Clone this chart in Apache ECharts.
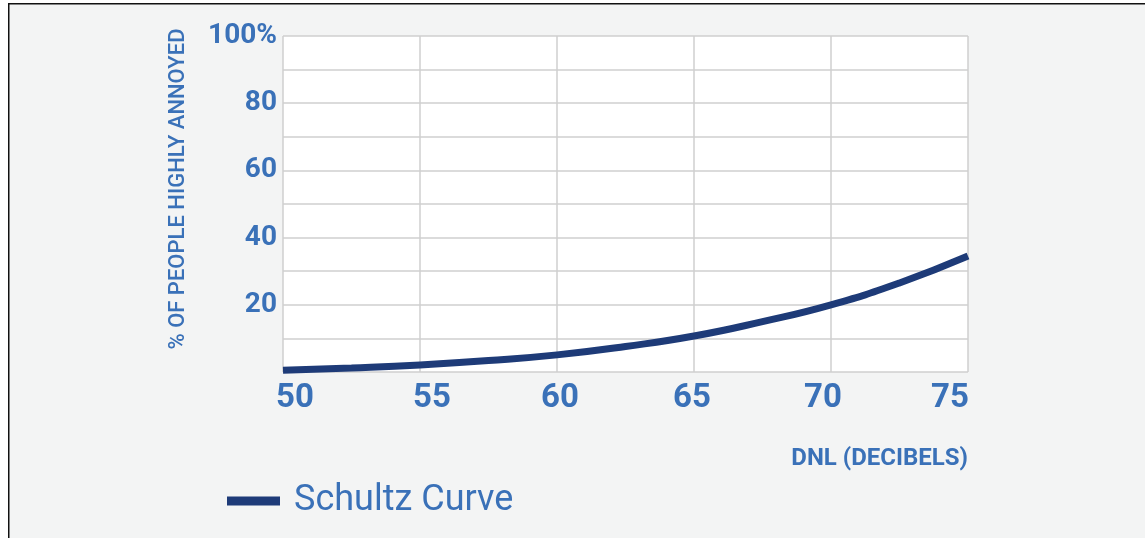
<!DOCTYPE html>
<html>
<head>
<meta charset="utf-8">
<script src="https://cdn.jsdelivr.net/npm/echarts@6/dist/echarts.min.js"></script>
<style>
html,body{margin:0;padding:0;background:#fff;}
#c{width:1145px;height:538px;}
</style>
</head>
<body>
<div id="c"></div>
<script>
// Data
const dnl = [50, 52.5, 55, 57.5, 60, 62.5, 65, 67.5, 70, 72.5, 75];
const pctAnnoyed = [0.5, 1.2, 2.1, 3.4, 5.1, 7.6, 10.7, 15.0, 20.0, 26.5, 34.5];
const xTicks = [50, 55, 60, 65, 70, 75];
const yTickLabels = {20: '20', 40: '40', 60: '60', 80: '80', 100: '100%'};
const seriesName = 'Schultz Curve';
const xTitle = 'DNL (DECIBELS)';
const yTitle = '% OF PEOPLE HIGHLY ANNOYED';

const BLUE = '#3a71b8';
const NAVY = '#1e3b78';
const FONT = 'Roboto, "Liberation Sans", sans-serif';

// horizontal shift (px) of each x tick label, to follow the reference placement
const xLabelShift = {50: 12, 55: 12, 60: 3, 65: -2, 70: -8, 75: -18};

const xRich = {};
const xBase = {color: BLUE, fontSize: 33, fontWeight: 'bold', fontFamily: FONT};
xTicks.forEach(function (v) {
  const s = xLabelShift[v] || 0;
  xRich['t' + v] = Object.assign({}, xBase, {
    padding: s >= 0 ? [0, 0, 0, 2 * s] : [0, -2 * s, 0, 0]
  });
});

const chart = echarts.init(document.getElementById('c'), null, {renderer: 'canvas'});
chart.setOption({
  backgroundColor: '#f3f4f4',
  animation: false,
  graphic: [
    {type: 'rect', shape: {x: 0, y: 0, width: 8, height: 538}, style: {fill: '#fff'}, silent: true},
    {type: 'rect', shape: {x: 0, y: 0, width: 1145, height: 3}, style: {fill: '#fff'}, silent: true},
    {type: 'rect', shape: {x: 8, y: 3, width: 1.5, height: 535}, style: {fill: '#111'}, silent: true},
    {type: 'rect', shape: {x: 8, y: 3, width: 1137, height: 1.5}, style: {fill: '#111'}, silent: true}
  ],
  grid: {
    left: 283, right: 177, top: 36, bottom: 166,
    show: true, backgroundColor: '#ffffff', borderWidth: 0
  },
  legend: {
    left: 222, top: 478,
    itemWidth: 53, itemHeight: 9,
    icon: 'rect',
    data: [seriesName],
    textStyle: {color: BLUE, fontSize: 36, fontFamily: FONT, padding: [0, 0, 0, 9]}
  },
  xAxis: {
    type: 'value', min: 50, max: 75, interval: 5,
    name: xTitle, nameLocation: 'end', nameGap: 0,
    nameTextStyle: {color: BLUE, fontSize: 24, fontWeight: 'bold', fontFamily: FONT,
      align: 'right', verticalAlign: 'top', padding: [75, 0, 0, 0]},
    axisLine: {show: false}, axisTick: {show: false},
    axisLabel: {
      margin: 10,
      formatter: function (v) { return '{t' + v + '|' + v + '}'; },
      rich: xRich
    },
    splitLine: {show: true, lineStyle: {color: '#cfcfcf', width: 1.5}}
  },
  yAxis: {
    type: 'value', min: 0, max: 100, interval: 10,
    name: yTitle, nameLocation: 'middle', nameGap: 94,
    nameTextStyle: {color: BLUE, fontSize: 22, fontWeight: 500, fontFamily: FONT, padding: [0, 0, 0, 30]},
    axisLine: {show: false}, axisTick: {show: false},
    axisLabel: {
      margin: 6,
      color: BLUE, fontSize: 28, fontWeight: 'bold', fontFamily: FONT,
      formatter: function (v) { return yTickLabels[v] || ''; }
    },
    splitLine: {show: true, lineStyle: {color: '#cfcfcf', width: 1.5}}
  },
  series: [{
    name: seriesName,
    type: 'line',
    smooth: 0.5,
    symbol: 'none',
    data: dnl.map(function (x, i) { return [x, pctAnnoyed[i]]; }),
    lineStyle: {color: NAVY, width: 7, cap: 'butt'},
    itemStyle: {color: NAVY}
  }]
});
</script>
</body>
</html>
